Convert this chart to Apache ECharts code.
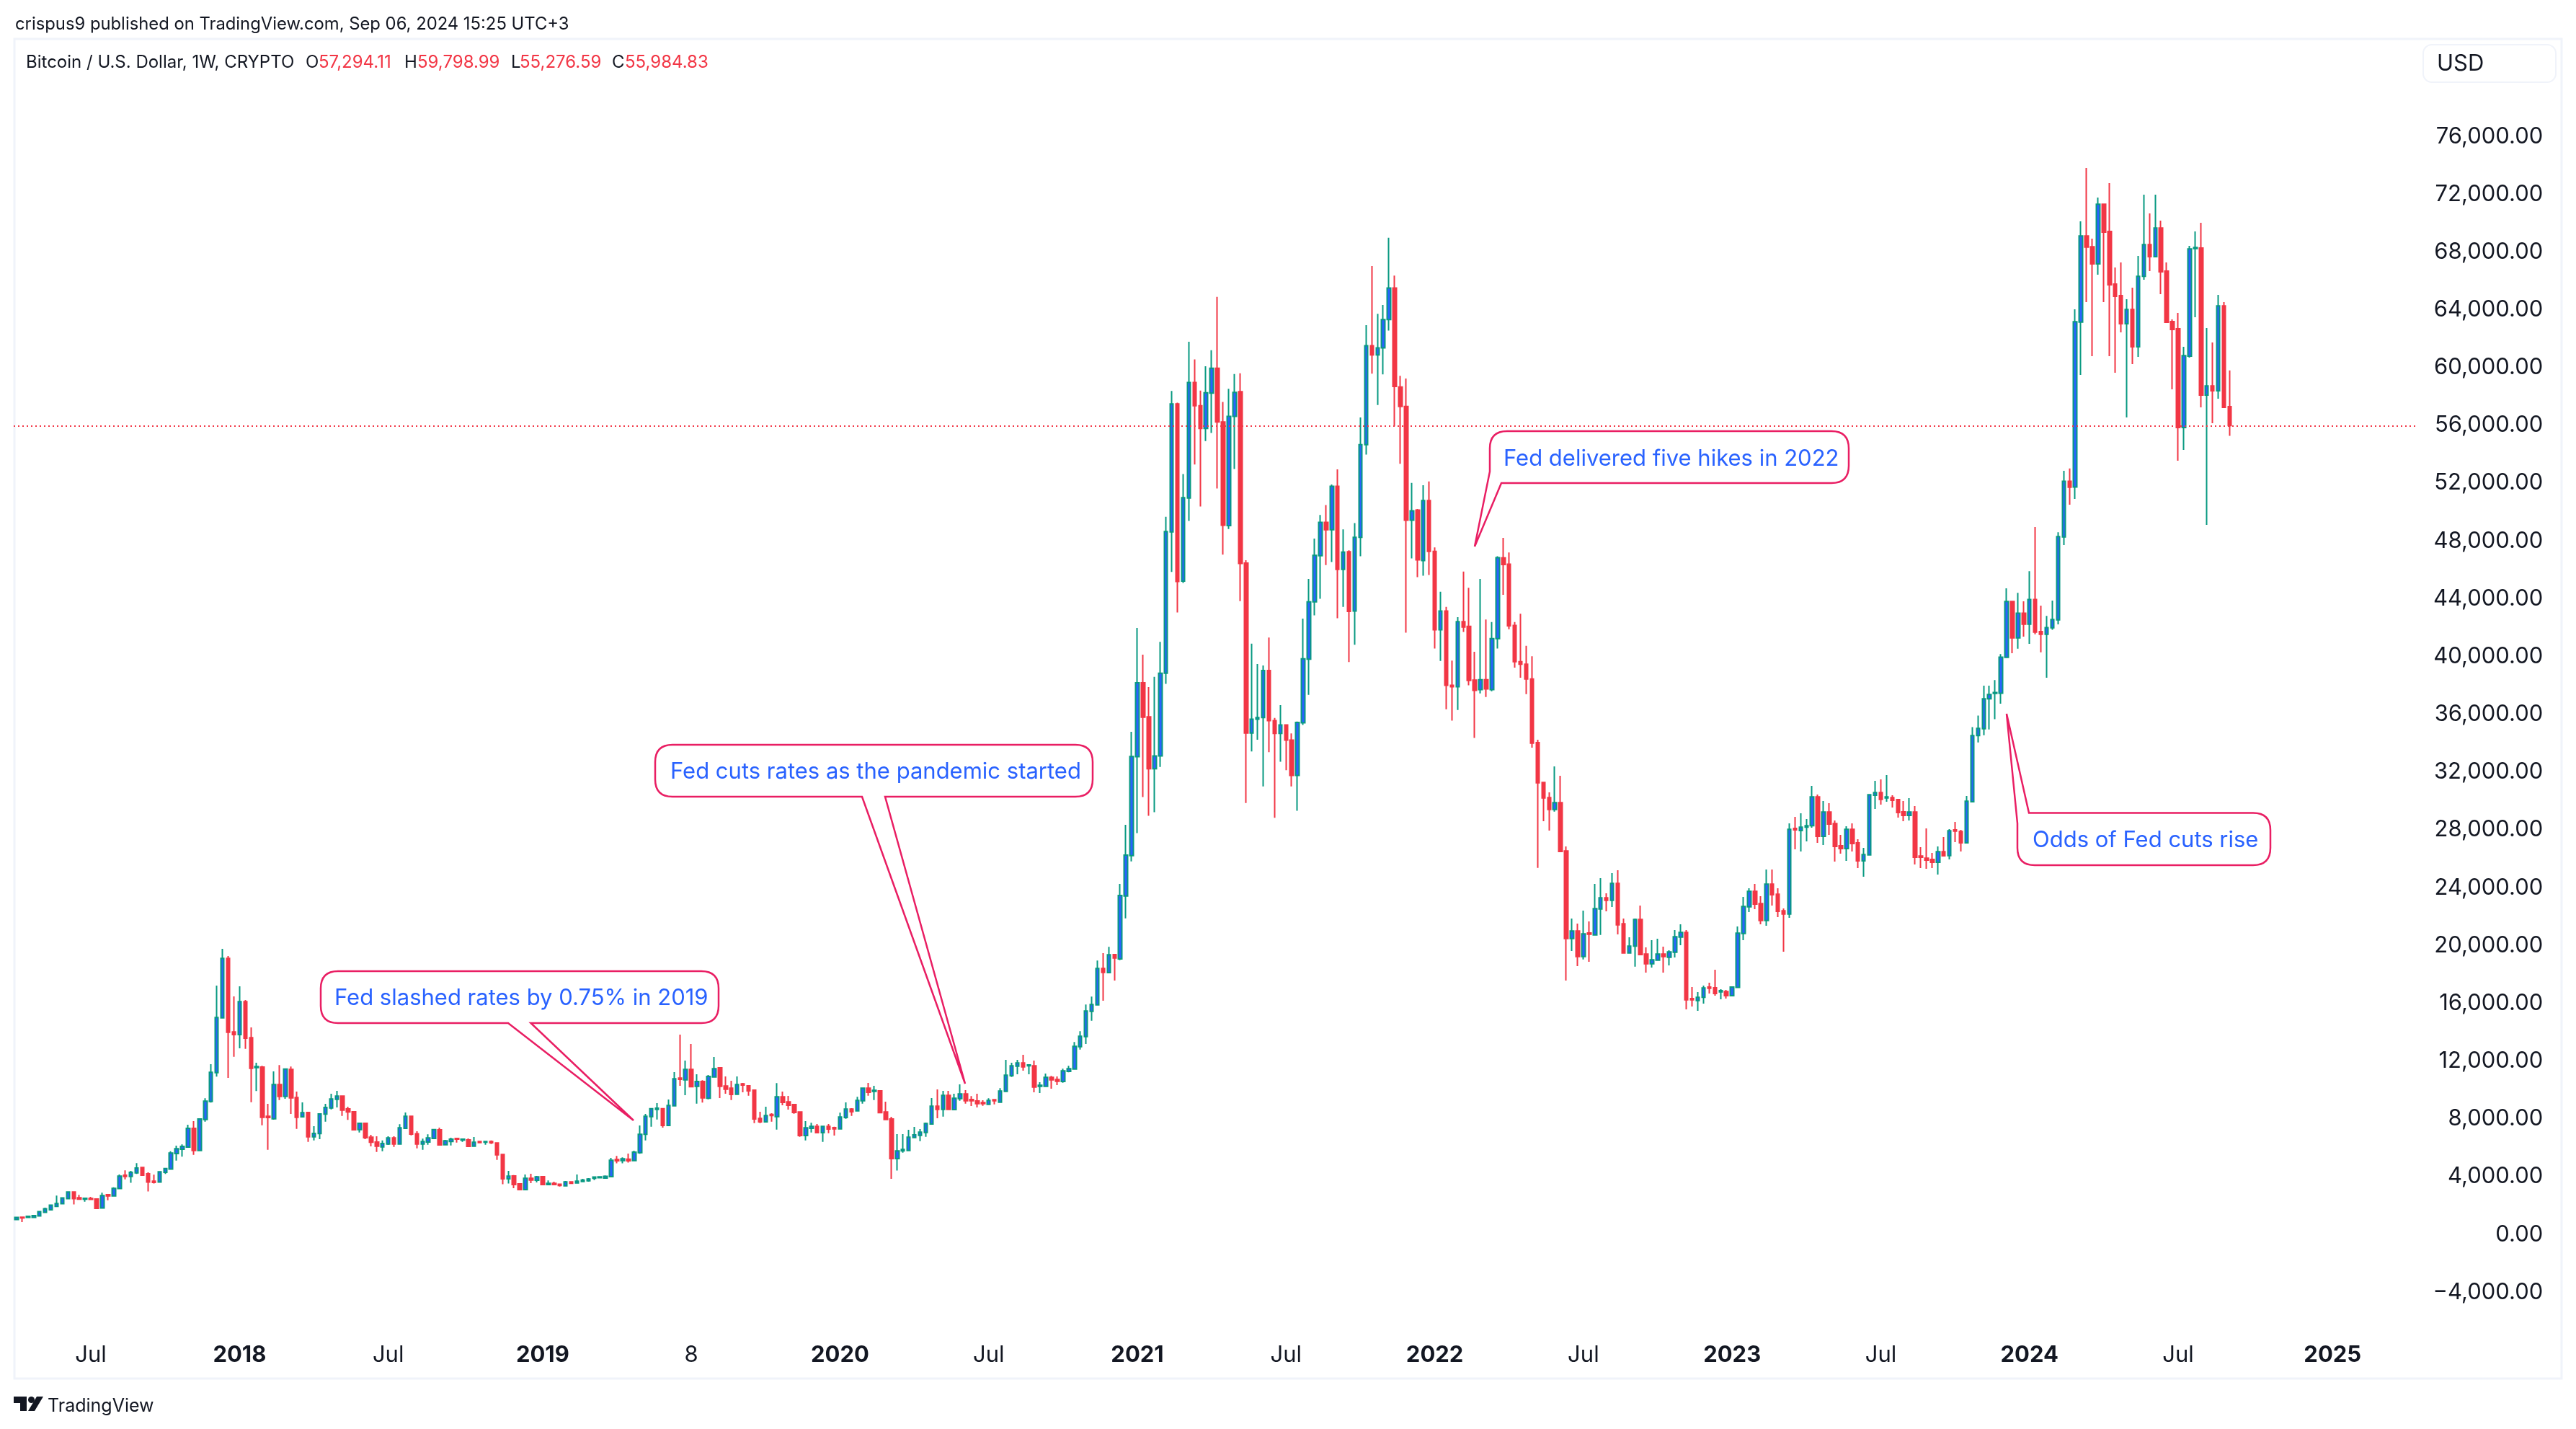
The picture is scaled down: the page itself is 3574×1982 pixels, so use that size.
<!DOCTYPE html>
<html>
<head>
<meta charset="utf-8">
<title>BTCUSD 1W</title>
<script src="https://cdn.jsdelivr.net/npm/echarts@6/dist/echarts.min.js"></script>
<style>
html, body { margin: 0; padding: 0; background: #fff; }
#chart { width: 3574px; height: 1982px; }
</style>
</head>
<body>
<div id="chart"></div>
<script>
// weekly candles, first one is the week of 3 Apr 2017
var firstWeek = '2017-04-03';
var opens = [
1029,1196,1179,1179,1279,1528,1711,1944,2127,2476,
2942,2543,2443,2493,2460,1828,2759,2675,3175,4106,
4022,4272,4638,4206,3690,3624,4305,4522,5603,5902,
6052,7349,5819,7964,9211,11207,14998,19106,14017,13834,
16113,13618,11556,11589,8180,8014,10375,9560,11423,9477,
8147,8447,6767,6982,8329,8762,9361,9577,8696,8496,
7266,7698,6733,6400,6068,6268,6683,6268,7349,8180,
6967,6268,6400,6650,7249,6218,6434,6650,6534,6550,
6118,6434,6384,6434,6334,5536,3856,4056,3507,3108,
3890,3757,4006,3457,3540,3474,3374,3640,3573,3673,
3723,3890,3923,3906,4006,5187,5120,5220,5120,5669,
6933,8164,8662,8712,7548,8911,10824,10708,11423,10259,
10591,9427,10907,11539,10276,10126,9710,10425,10292,9993,
8030,7798,8313,8164,9527,9178,8995,8479,6850,7349,
7482,7049,7482,7398,7315,8097,8679,8563,9261,10126,
9910,9943,8479,7997,5253,5785,5818,6716,6866,7066,
7648,8878,8662,9627,8646,9411,9727,9344,9244,9128,
9012,9328,9161,9910,10990,11656,11872,11672,11672,10259,
10259,10874,10724,10591,11290,11456,13003,13701,15447,15896,
18408,18125,19372,19073,23432,26226,33074,38191,35824,32233,
33124,38853,48630,57490,45217,50972,58966,57362,55784,58228,
59959,56242,49063,56624,58330,46465,34703,35670,35772,39031,
35569,34677,35263,34219,31775,35416,39821,43792,46975,49291,
48782,51787,46033,47254,43155,48248,54664,61512,60876,61360,
63320,65502,58661,57311,49444,50132,46644,50794,47280,41857,
43156,38013,37911,42417,42086,38370,37707,38395,37707,41246,
46828,46398,42147,39640,39473,38446,34042,31282,30234,29419,
29885,26542,20489,21004,19242,20871,20738,22534,23299,23133,
24297,21503,19491,19957,21803,19408,18743,18992,19408,19192,
19541,20588,20905,16331,16198,16414,17130,17080,16797,16814,
16531,17097,20838,22684,23748,22900,21736,24247,23549,22402,
22185,28105,27956,28189,28288,30284,27557,29236,28438,26908,
26708,28039,27108,25860,26276,30400,30583,30217,30234,30101,
29253,29003,29236,26193,26043,25960,25761,26492,26226,28006,
27889,27108,29951,34525,35006,37073,37447,37465,39942,43809,
41296,43007,42241,43951,41724,41546,41991,42544,48282,52131,
51728,63153,69106,68358,67177,71301,69422,65780,64982,63036,
64017,61440,66312,68508,67676,69655,66678,63186,62687,55852,
60791,68241,68275,58097,58729,58397,64267,57294.11
];
var closes = [
1179,1146,1262,1312,1578,1778,2027,2143,2526,2942,
2476,2443,2510,2426,1811,2692,2675,3191,4039,4022,
4305,4605,4106,3624,3607,4339,4571,5636,5935,6101,
7349,5819,7997,9228,11223,15015,19106,14001,13834,16113,
13585,11506,11623,8114,8097,10375,9560,11456,9461,8114,
8430,6767,6999,8346,8795,9378,9577,8612,8479,7249,
7698,6700,6384,6118,6301,6683,6268,7382,8180,6950,
6268,6434,6683,7265,6201,6484,6600,6600,6600,6101,
6384,6367,6434,6350,5519,3856,4039,3457,3108,3890,
3773,3989,3457,3540,3457,3390,3640,3540,3690,3773,
3839,3973,3989,4023,5137,5104,5237,5104,5702,6933,
8180,8712,8745,7548,8928,10774,10741,11423,10226,10591,
9461,10941,11473,10259,10059,9693,10375,10342,9943,7997,
7798,8230,8230,9527,9145,8945,8446,6850,7382,7482,
7049,7482,7299,7315,8130,8679,8496,9278,10126,9843,
9976,8430,7964,5253,5785,5885,6733,6900,7082,7681,
8878,8662,9627,8662,9427,9727,9261,9261,9062,9062,
9278,9261,9926,11024,11672,11872,11606,11739,10209,10325,
10874,10708,10608,11323,11473,13020,13718,15464,15913,18408,
18142,19356,19139,23466,26259,33078,38191,35798,32233,33124,
38853,48655,57490,45192,50997,58966,57362,55784,58253,59959,
56242,49088,56624,58279,46440,34703,35670,35772,39031,35569,
34677,35263,34219,31775,35441,39846,43792,47000,49291,48782,
51787,46033,47229,43130,48248,54664,61512,60876,61360,63320,
65502,58696,57311,49444,50081,46695,50794,47280,41857,43156,
38013,37911,42417,42035,38344,37656,38395,37758,41246,46847,
46374,42123,39640,39473,38446,34004,31265,30217,29419,29885,
26509,20489,21004,19242,20805,20788,22551,23299,23133,24297,
21437,19491,19957,21803,19375,18743,19009,19408,19242,19558,
20605,20905,16248,16248,16414,17063,17046,16681,16880,16531,
17130,20855,22701,23748,22867,21736,24247,23516,22368,22185,
28039,28006,28189,28288,30284,27557,29236,28405,26858,26708,
28039,27058,25860,26293,30434,30583,30118,30284,30051,29203,
29003,29236,26110,26110,25910,25761,26492,26209,27939,27923,
27108,29985,34525,35024,37073,37376,37518,39960,43809,41296,
43007,42241,43951,41688,41546,42009,42562,48300,52131,51721,
63169,69106,68341,67177,71301,69372,65730,64932,63036,64017,
61440,66312,68508,67676,69655,66628,63136,62637,55852,60824,
68208,68308,58097,58729,58397,64267,57249,55984.83
];
var highs = [
1212,1212,1270,1330,1611,1861,2077,2692,2559,2975,
2975,2742,2559,2609,2500,2892,2809,3274,4156,4438,
4405,4937,4670,4305,4139,4355,4605,5769,6151,6234,
7598,7848,8047,9427,11789,17227,19771,19272,16479,17177,
16229,14333,11889,11672,9045,11290,11722,11489,11623,9893,
9145,8480,7498,8380,9045,9743,9943,9610,8845,8546,
7748,7730,6900,6800,6517,6800,6800,7631,8446,8230,
7149,6634,6933,7315,7399,6550,6700,6700,6630,6650,
6750,6460,6460,6517,6360,5560,4405,4122,3540,4156,
4206,4056,4056,3740,3657,3500,3707,3660,4156,3856,
3906,4000,4010,4089,5303,5436,5336,5603,5802,7548,
8346,8760,9095,8760,9344,11240,13834,12038,13186,11090,
10675,11041,12288,11570,10941,10641,10941,10492,10325,10043,
8496,8845,8396,10475,9893,9594,9045,8510,7848,7731,
7648,7520,7648,7465,8430,9145,8745,9527,10160,10492,
10292,9976,9195,8147,6950,6950,7249,7448,7299,7748,
9444,10043,9943,9943,9743,10392,9993,9577,9743,9294,
9427,9350,10126,12088,11889,12088,12437,11789,12038,10542,
11140,10974,10941,11473,11672,13319,14067,15913,16462,18956,
19472,19904,19405,24264,28355,34791,41984,40126,37885,38598,
41017,49673,58381,57566,52627,61792,60570,58406,60087,61207,
64898,57617,58533,59552,59603,46669,40890,39489,39388,41323,
35748,36638,35320,34677,35500,42621,45371,48171,49801,50488,
51914,52958,48808,47357,49241,56548,62938,67030,63727,64338,
68988,66362,59425,59246,52016,50208,51863,52118,47560,44480,
43436,39719,42723,45880,44760,40330,45371,42570,42392,46949,
48213,47210,42386,42959,40738,40022,34242,31320,30600,32396,
31747,26858,21869,21520,22418,21670,24264,24663,23615,25012,
25212,21869,20572,21869,22767,19874,20372,20472,19923,19674,
21071,21470,21071,17130,16780,17229,17429,18327,16980,16930,
17160,21320,23366,23965,24264,23416,25262,25262,23965,22568,
28455,28904,29153,28754,31049,30450,30001,29852,28654,27656,
28255,28455,27357,26758,30470,31398,31498,31797,30400,30150,
30001,30201,29652,26808,28105,26409,26858,27507,28055,28554,
28006,30350,35123,35915,37982,37982,38374,40174,44718,43840,
44415,43827,45912,48959,43524,42811,43880,48603,52861,53022,
64034,70121,73813,68923,71767,71330,72765,66928,67277,64733,
65531,67726,71967,70669,71967,70171,67277,63336,63785,61440,
68424,69422,70021,62737,61739,65032,64533,59798.99
];
var lows = [
996,863,1170,1170,1262,1495,1678,1911,2094,2459,
2077,2410,2276,2410,1778,1795,2376,2642,3158,3823,
3574,4189,4056,2975,3524,3590,4189,4500,5120,5386,
6019,5519,5780,7814,9128,10924,14950,10841,12304,12886,
12853,9161,9926,7565,5869,7950,9311,9394,8346,7315,
8114,6417,6517,6600,7814,8662,8795,8213,7931,7199,
7066,6600,6101,5719,5769,6200,6068,6230,7320,6866,
5968,5869,6218,6600,6151,6190,6168,6367,6417,6068,
6090,6340,6218,6268,5170,3474,3524,3208,3090,3090,
3557,3607,3430,3430,3407,3324,3324,3507,3550,3640,
3657,3773,3900,3856,3980,4921,4921,4971,5070,5586,
6517,7465,7964,7398,7515,8880,10292,9644,10200,9062,
9128,9361,10880,9444,9743,9311,9680,9843,9611,7715,
7715,7765,7814,7266,8945,8646,8363,6767,6517,7066,
7016,6417,7016,6850,7290,8014,8213,8530,9062,9611,
9311,8396,7930,3856,4422,5669,5790,6690,6467,6767,
7615,8047,8164,8630,8612,9261,9062,8895,8795,8912,
8990,9012,9111,9880,10907,11090,11340,11090,9843,9793,
10230,10093,10342,10508,11223,11406,12803,13186,14799,15860,
16179,18075,17576,18990,21886,25827,27778,30273,28974,29229,
32361,38115,45854,43054,45091,49393,53289,50386,54918,55478,
51634,47051,48833,52983,43843,29866,33430,34245,31011,33379,
28847,32717,32131,31011,29331,35263,37351,42850,43996,46338,
46542,42646,43436,39617,40813,46949,53976,59577,57413,59526,
62556,55937,53340,41653,46796,45498,45600,45651,40559,39693,
36358,35569,36307,41704,38013,34372,37453,37198,37605,40559,
44273,41885,39234,38541,37395,33694,25378,28604,27956,29269,
26480,17579,19624,18576,19042,18876,20700,20738,22368,22667,
20772,19450,19450,18543,19325,18127,18477,18950,18127,18626,
19175,20023,15583,15783,15483,15982,16681,16531,16281,16331,
16500,17060,20372,22318,22518,21470,21370,22767,21969,19574,
21919,26659,26509,27207,28155,27108,26958,27656,25810,26359,
25860,26509,25361,24763,26250,29452,29752,29951,29552,28854,
28604,28654,25611,25361,25312,25361,24912,26160,25960,27157,
26509,27080,29900,34061,34560,34952,35665,36734,39900,40227,
40548,41385,40886,41546,40298,38534,41849,42223,47711,50509,
50913,59494,64533,60791,66429,64533,60791,59644,62438,56551,
60242,60741,66080,66678,67626,65082,63100,58496,53557,54306,
60691,63485,57249,49117,56151,57848,57200,55276.59
];
// x axis labels and the week they sit on
var tickWeeks = [13, 39, 65, 92, 118, 144, 170, 196, 222, 248, 274, 300, 326, 352, 378, 405];
var tickLabels = ['Jul', '2018', 'Jul', '2019', '8', '2020', 'Jul', '2021', 'Jul', '2022', 'Jul', '2023', 'Jul', '2024', 'Jul', '2025'];
var priceTicksMin = -4000, priceTicksMax = 76000, priceTickStep = 4000;

const RED = '#F23645', GREEN = '#089981', BLUE = '#2962FF', PINK = '#E91E63', INK = '#131722', FRAME = '#F0F3FA';
const FONT = 'Inter';
const WEEK_W = 7.934;     // one candle slot
const SLOTS = 420;        // includes the empty space right of the last candle

let categories = [];
let t0 = new Date(firstWeek + 'T00:00:00Z').getTime();
for (let i = 0; i < SLOTS; i++) {
    categories.push(new Date(t0 + i * 7 * 86400000).toISOString().slice(0, 10));
}
let candles = opens.map(function (o, i) {
    return [o, closes[i], lows[i], highs[i]];
});
let lastClose = closes[closes.length - 1];

function money(v) {
    return v.toLocaleString('en-US', {minimumFractionDigits: 2, maximumFractionDigits: 2});
}

// the graphic component has no path type, so the callout outline is its own shape
// a third number on a point rounds that corner
echarts.graphic.registerShape('outline', echarts.graphic.extendShape({
    shape: {points: []},
    buildPath: function (ctx, shape) {
        let pts = shape.points;
        let n = pts.length;
        pts.forEach(function (p, i) {
            let r = p[2] || 0;
            if (!r) {
                i ? ctx.lineTo(p[0], p[1]) : ctx.moveTo(p[0], p[1]);
                return;
            }
            let a = pts[(i + n - 1) % n], b = pts[(i + 1) % n];
            let la = Math.hypot(a[0] - p[0], a[1] - p[1]), lb = Math.hypot(b[0] - p[0], b[1] - p[1]);
            let sx = p[0] + (a[0] - p[0]) * r / la, sy = p[1] + (a[1] - p[1]) * r / la;
            i ? ctx.lineTo(sx, sy) : ctx.moveTo(sx, sy);
            ctx.quadraticCurveTo(p[0], p[1], p[0] + (b[0] - p[0]) * r / lb, p[1] + (b[1] - p[1]) * r / lb);
        });
        ctx.closePath();
    }
}));

function callout(points, label, textX, textY) {
    return [{
        type: 'outline',
        z: 50,
        shape: {points: points},
        style: {fill: '#fff', stroke: PINK, lineWidth: 2.5}
    }, {
        type: 'text',
        z: 51,
        style: {text: label, x: textX, y: textY, fill: BLUE, font: '31px ' + FONT, textVerticalAlign: 'middle'}
    }];
}

function plainText(str, x, y, color, size, weight) {
    return {
        type: 'text',
        z: 60,
        style: {text: str, x: x, y: y, fill: color, font: (weight || 'normal') + ' ' + size + 'px ' + FONT, textVerticalAlign: 'middle'}
    };
}

let graphics = [
    {type: 'rect', z: 1, shape: {x: 20, y: 54, width: 3534, height: 1858}, style: {fill: 'none', stroke: FRAME, lineWidth: 3}},
    {type: 'rect', z: 1, shape: {x: 3362, y: 62, width: 184, height: 52, r: 12}, style: {fill: '#fff', stroke: FRAME, lineWidth: 2}},
    plainText('USD', 3381, 89, INK, 31),
    plainText('crispus9 published on TradingView.com, Sep 06, 2024 15:25 UTC+3', 21, 34, INK, 23.8),
    plainText('Bitcoin / U.S. Dollar, 1W, CRYPTO', 36, 87, INK, 24),
    plainText('O', 424, 87, INK, 24),
    plainText('57,294.11', 442, 87, RED, 24),
    plainText('H', 561, 87, INK, 24),
    plainText('59,798.99', 579, 87, RED, 24),
    plainText('L', 709, 87, INK, 24),
    plainText('55,276.59', 721, 87, RED, 24),
    plainText('C', 849, 87, INK, 24),
    plainText('55,984.83', 867, 87, RED, 24),
    // TradingView mark
    {type: 'polygon', z: 60, shape: {points: [[19, 1937], [37, 1937], [37, 1957], [28, 1957], [28, 1946], [19, 1946]]}, style: {fill: INK}},
    {type: 'polygon', z: 60, shape: {points: [[60, 1937], [51, 1937], [39, 1957], [48, 1957]]}, style: {fill: INK}},
    {type: 'circle', z: 60, shape: {cx: 43.5, cy: 1941.5, r: 4.5}, style: {fill: INK}},
    plainText('TradingView', 66, 1950, INK, 25)
];
graphics = graphics.concat(
    callout([[445, 1347, 24], [997, 1347, 24], [997, 1419, 24], [736.5, 1419], [879, 1554], [705, 1419], [445, 1419, 24]],
        'Fed slashed rates by 0.75% in 2019', 464, 1385),
    callout([[909, 1033, 24], [1516, 1033, 24], [1516, 1105, 24], [1228, 1105], [1339, 1503], [1196, 1105], [909, 1105, 24]],
        'Fed cuts rates as the pandemic started', 930, 1071),
    callout([[2067, 598, 24], [2565, 598, 24], [2565, 670, 24], [2083, 670], [2046, 758], [2067, 654]],
        'Fed delivered five hikes in 2022', 2086, 637),
    callout([[2815, 1127.5], [3150, 1127.5, 24], [3150, 1200, 24], [2799, 1200, 24], [2799, 1142], [2784, 990]],
        'Odds of Fed cuts rise', 2820, 1166)
);

var chart = echarts.init(document.getElementById('chart'));
var option = {
    animation: false,
    backgroundColor: '#fff',
    textStyle: {fontFamily: FONT},
    grid: {left: 19, top: 189.2, width: SLOTS * WEEK_W, height: 1603.2, containLabel: false},
    xAxis: {
        type: 'category',
        data: categories,
        boundaryGap: true,
        axisLine: {show: false},
        axisTick: {show: false},
        splitLine: {show: false},
        axisLabel: {
            margin: 72,
            hideOverlap: false,
            interval: function (idx) {
                return tickWeeks.indexOf(idx) >= 0;
            },
            formatter: function (value, idx) {
                let label = tickLabels[tickWeeks.indexOf(idx)];
                return /^20/.test(label) ? '{year|' + label + '}' : '{sub|' + label + '}';
            },
            rich: {
                year: {fontFamily: FONT, fontSize: 31, fontWeight: 'bold', color: INK},
                sub: {fontFamily: FONT, fontSize: 31, color: INK}
            }
        }
    },
    yAxis: {
        type: 'value',
        position: 'right',
        min: priceTicksMin,
        max: priceTicksMax,
        interval: priceTickStep,
        scale: true,
        axisLine: {show: false},
        axisTick: {show: false},
        splitLine: {show: false},
        axisLabel: {
            align: 'right',
            margin: 177,
            padding: [2, 0, 0, 0],
            fontFamily: FONT,
            fontSize: 31,
            color: INK,
            showMinLabel: true,
            showMaxLabel: true,
            formatter: function (v) {
                return v < 0 ? '\u2212' + money(-v) : money(v);
            }
        }
    },
    graphic: {elements: graphics},
    series: [{
        type: 'candlestick',
        data: candles,
        barWidth: 5,
        clip: false,
        silent: true,
        itemStyle: {
            color: BLUE,
            color0: RED,
            borderColor: GREEN,
            borderColor0: RED,
            borderWidth: 2
        },
        markLine: {
            silent: true,
            symbol: 'none',
            animation: false,
            label: {show: false},
            lineStyle: {color: RED, width: 2, type: [2, 4]},
            data: [{yAxis: lastClose}]
        }
    }]
};
chart.setOption(option);
</script>
</body>
</html>
